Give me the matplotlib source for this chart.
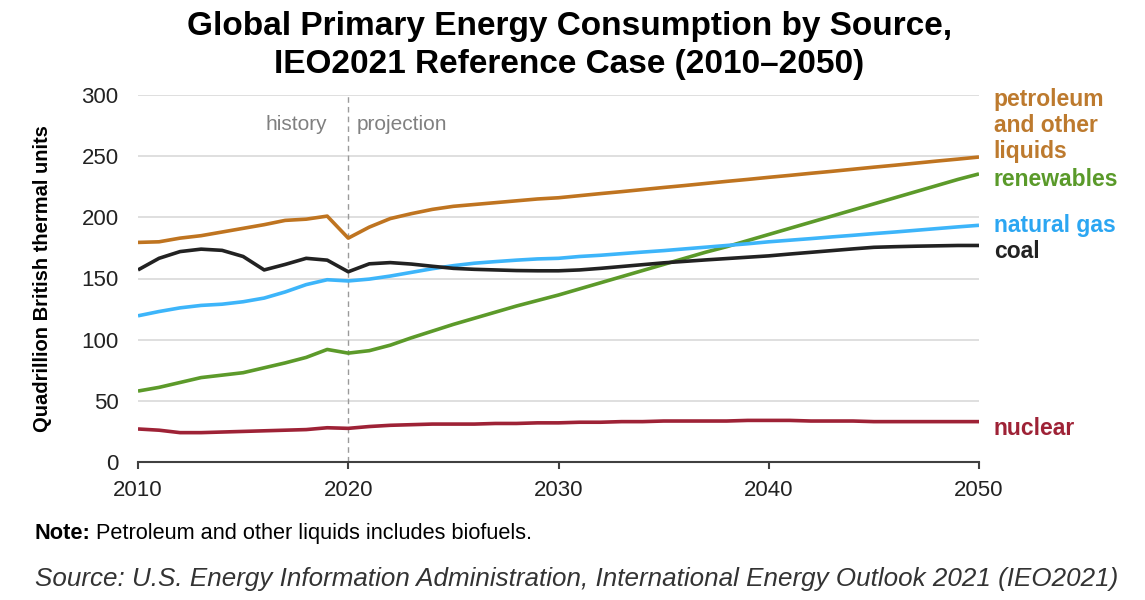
import matplotlib
matplotlib.use("Agg")
from matplotlib import pyplot as plt

plt.rcParams['font.family'] = ['Liberation Sans', 'DejaVu Sans']

years = list(range(2010, 2051))

# values, quadrillion Btu
petroleum = [179.5, 180, 183, 185, 188, 191, 194, 197.5, 198.5, 201,
             183, 192, 199, 203, 206.5, 209, 210.5, 212, 213.5, 215,
             216, 217.7, 219.4, 221, 222.7, 224.4, 226, 227.7, 229.4, 231,
             232.7, 234.3, 236, 237.6, 239.3, 241, 242.6, 244.3, 246, 247.6, 249.3]
renewables = [58, 61, 65, 69, 71, 73, 77, 81, 85.5, 92,
              89, 91, 95.5, 101.5, 107, 112.5, 117.5, 122.5, 127.5, 132,
              136.5, 141.5, 146.5, 151.5, 156.5, 161.5, 166.5, 171.5, 176, 181,
              186, 191, 196, 201, 206, 211, 216, 221, 226, 231, 235.5]
natural_gas = [119.5, 123, 126, 128, 129, 131, 134, 139, 145, 149,
               148, 149.5, 152, 155, 158, 160.5, 162.5, 163.8, 165, 166,
               166.5, 168, 169, 170.3, 171.6, 172.8, 174.2, 175.6, 177, 178.4,
               180, 181.3, 182.6, 184, 185.3, 186.7, 188, 189.4, 190.8, 192.2, 193.5]
coal = [157, 166.5, 172, 174, 173, 168, 157, 161.5, 166.5, 165,
        155.5, 162, 163, 161.8, 160, 158.3, 157.5, 157, 156.5, 156.3,
        156.3, 157, 158.3, 159.8, 161.3, 162.8, 164, 165.2, 166.3, 167.4,
        168.5, 170, 171.4, 172.8, 174.2, 175.5, 176, 176.4, 176.7, 177, 177]
nuclear = [27, 26, 24, 24, 24.5, 25, 25.5, 26, 26.5, 28,
           27.5, 29, 30, 30.5, 31, 31, 31, 31.5, 31.5, 32,
           32, 32.5, 32.5, 33, 33, 33.5, 33.5, 33.5, 33.5, 34,
           34, 34, 33.5, 33.5, 33.5, 33, 33, 33, 33, 33, 33]

series = [
    ("petroleum\nand other\nliquids", petroleum, "#BF7420", "#BD7A2E", 275),
    ("renewables", renewables, "#5C9A2A", "#5A9A2A", 231),
    ("natural gas", natural_gas, "#3DB5FA", "#2BA6F2", 193),
    ("coal", coal, "#222222", "#222222", 172),
    ("nuclear", nuclear, "#9E2236", "#9E2236", 27),
]

fig = plt.figure(figsize=(11.45, 6), dpi=100)
ax = fig.add_axes([138 / 1145, 1 - 462 / 600, (979 - 138) / 1145, (462 - 95) / 600])

for name, vals, col, lcol, ly in series:
    ax.plot(years, vals, color=col, lw=2.6, solid_capstyle='butt', zorder=3)
    ax.text(2050.7, ly, name, color=lcol, fontsize=16.5, fontweight='bold',
            va='center', ha='left', linespacing=1.15, clip_on=False)

ax.axvline(2020, color='#9a9a9a', lw=1, ls=(0, (4, 3)), zorder=2)
ax.text(2019.0, 276, "history", color='#808080', fontsize=15, ha='right', va='center')
ax.text(2020.4, 276, "projection", color='#808080', fontsize=15, ha='left', va='center')

ax.set_xlim(2010, 2050)
ax.set_ylim(0, 300)
ax.set_xticks([2010, 2020, 2030, 2040, 2050])
ax.set_yticks(range(0, 301, 50))
ax.grid(axis='y', color='#d9d9d9', lw=1.2)
ax.set_axisbelow(True)
for s in ['top', 'right', 'left']:
    ax.spines[s].set_visible(False)
ax.spines['bottom'].set_color('#404040')
ax.spines['bottom'].set_linewidth(1.5)
ax.tick_params(axis='y', length=0, pad=14, labelsize=16, labelcolor='#222222')
ax.tick_params(axis='x', length=5, width=1.5, color='#404040', pad=8,
               labelsize=16, labelcolor='#222222')
ax.set_ylabel("Quadrillion British thermal units", fontsize=14.5,
              fontweight='bold', labelpad=21)

fig.text(0.497, 0.982, "Global Primary Energy Consumption by Source,\nIEO2021 Reference Case (2010\u20132050)",
         ha='center', va='top', fontsize=24, fontweight='bold', linespacing=1.3)

# note: bold "Note:" followed by regular text
note_y = 1 - 539 / 600
t1 = fig.text(35 / 1145, note_y, "Note:", fontsize=15.7, fontweight='bold', va='baseline')
fig.canvas.draw()
bb = t1.get_window_extent()
fig.text((bb.x1 + 5) / 1145, note_y, "Petroleum and other liquids includes biofuels.",
         fontsize=15.7, va='baseline')
fig.text(35 / 1145, 1 - 579 / 600,
         "Source: U.S. Energy Information Administration, International Energy Outlook 2021 (IEO2021)",
         fontsize=18.7, style='italic', va='center', color='#333333')

fig.savefig("out.png", dpi=100)
